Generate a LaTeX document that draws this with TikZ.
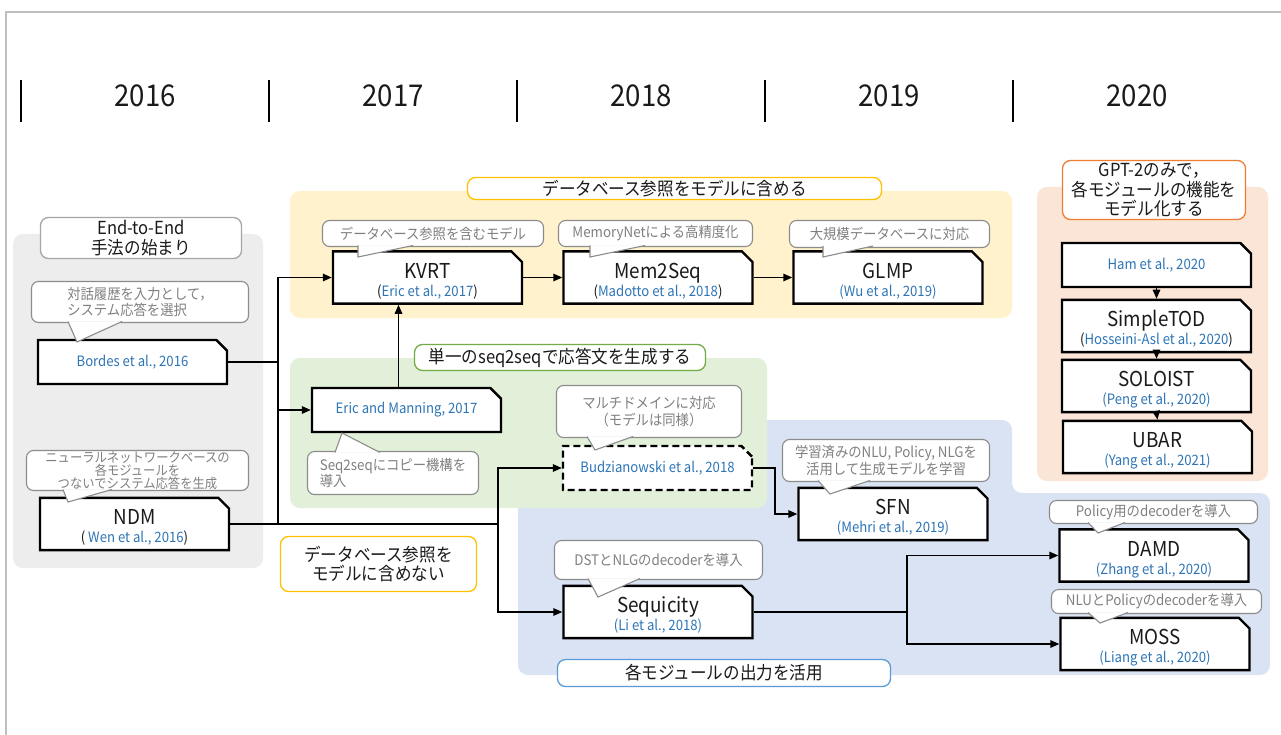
\documentclass[tikz,border=0pt]{standalone}
\usepackage{fontspec}
\setmainfont[FakeStretch=0.92]{Noto Sans CJK JP}
\usetikzlibrary{shapes.misc,arrows.meta,calc}
\definecolor{citeblue}{HTML}{2E75B6}
\definecolor{bubedge}{HTML}{8C8C8C}
\definecolor{bubtext}{HTML}{808080}
\definecolor{graybg}{HTML}{EDEDED}
\definecolor{yellowbg}{HTML}{FFF2CC}
\definecolor{greenbg}{HTML}{E2F0D9}
\definecolor{bluebg}{HTML}{DAE3F3}
\definecolor{orangebg}{HTML}{FBE5D6}
\definecolor{yellowedge}{HTML}{FFC000}
\definecolor{greenedge}{HTML}{70AD47}
\definecolor{blueedge}{HTML}{5B9BD5}
\definecolor{orangeedge}{HTML}{ED7D31}
\definecolor{labeledge}{HTML}{A6A6A6}
\definecolor{framegray}{HTML}{BFBFBF}
\definecolor{titleblack}{HTML}{1A1A1A}
\newcommand\fYear{\fontsize{30}{36}\selectfont}
\newcommand\fTitle{\fontsize{20.5}{18}\selectfont}
\newcommand\fCite{\fontsize{14.3}{18}\selectfont}
\newcommand\fBub{\fontsize{14.5}{16.5}\selectfont}
\newcommand\fSmallBub{\fontsize{13.4}{12.8}\selectfont}
\newcommand\fLab{\fontsize{18}{19.5}\selectfont}
\newcommand\mdl[3]{\rule{0pt}{23pt}{\fTitle\color{titleblack}#1}\\{\color{#3}(}#2{\color{#3})}\rule[-4pt]{0pt}{4pt}}
\begin{document}
\begin{tikzpicture}[x=1pt,y=-1pt,
  model/.style={chamfered rectangle, chamfered rectangle corners=north east,
    chamfered rectangle xsep=7pt, draw=black, line width=2.4pt, fill=white,
    minimum width=189pt, minimum height=44pt, inner sep=0pt, align=center,
    font=\fCite, text=citeblue},
  bubble/.style={draw=bubedge, line width=1.1pt, fill=white, rounded corners=7pt,
    inner sep=0pt, text=bubtext, font=\fBub, align=center},
  tailst/.style={draw=bubedge, line width=1.1pt, fill=white, line join=miter},
  label/.style={line width=1.3pt, fill=white, rounded corners=8pt, inner sep=0pt,
    font=\fLab, align=center, text=titleblack},
  yr/.style={font=\fYear, text=titleblack, inner sep=0pt},
  conn/.style={line width=1.5pt, -{Triangle[length=9pt,width=7.5pt]}},
  plain/.style={line width=1.5pt}]
\useasboundingbox (0,0) rectangle (1281,735);
\fill[white] (0,0) rectangle (1281,735);
\draw[framegray, line width=1.5pt] (6,735) -- (6,12) -- (1281,12);

% year axis
\foreach \x in {21,269,517,765,1013} \draw[line width=1.2pt] (\x,80) -- (\x,122);
\node[yr] (y2016) at (145,96) {2016};
\node[yr] (y2017) at (393,96) {2017};
\node[yr] (y2018) at (641,96) {2018};
\node[yr] (y2019) at (889,96) {2019};
\node[yr] (y2020) at (1137,96) {2020};

% background regions
\fill[graybg, rounded corners=10pt] (13,234) rectangle (263,568);
\fill[yellowbg, rounded corners=10pt] (290,191) rectangle (1012,318);
\fill[bluebg, rounded corners=10pt] (518,420) -- (1012,420) -- (1012,493) -- (1270,493) -- (1270,675) -- (518,675) -- cycle;
\fill[greenbg, rounded corners=10pt] (290,358) rectangle (767,508);
\fill[orangebg, rounded corners=10pt] (1037,187) rectangle (1268,481);

% group labels
\node[label, draw=labeledge, minimum width=201pt, minimum height=41pt] (lE2E) at (141,238) {End-to-End\\手法の始まり};
\node[label, draw=yellowedge, minimum width=414pt, minimum height=22pt] (lDB) at (674.5,188.5) {データベース参照をモデルに含める};
\node[label, draw=greenedge, minimum width=291pt, minimum height=26pt] (lS2S) at (560,357.5) {単一のseq2seqで応答文を生成する};
\node[label, draw=blueedge, minimum width=333pt, minimum height=27pt] (lMod) at (724,673) {各モジュールの出力を活用};
\node[label, draw=orangeedge, minimum width=183pt, minimum height=59pt] (lGPT) at (1154,190) {GPT-2のみで，\\各モジュールの機能を\\モデル化する};
\node[label, draw=yellowedge, minimum width=196pt, minimum height=55pt] (lNoDB) at (378.5,564) {データベース参照を\\モデルに含めない};

% model boxes
\node[model] (Bordes) at (132.5,362) {Bordes et al., 2016};
\node[model] (NDM) at (134.5,524) {\mdl{NDM}{~Wen et al., 2016}{titleblack}};
\node[model] (KVRT) at (427.5,277.5) {\mdl{KVRT}{Eric et al., 2017}{titleblack}};
\node[model] (Mem) at (658,277.5) {\mdl{Mem2Seq}{Madotto et al., 2018}{titleblack}};
\node[model] (GLMP) at (888,277.5) {\mdl{GLMP}{Wu et al., 2019}{citeblue}};
\node[model] (Eric) at (406.5,410) {Eric and Manning, 2017};
\node[model, dashed, dash pattern=on 7pt off 4pt] (Budz) at (657.5,468) {Budzianowski et al., 2018};
\node[model] (SFN) at (893,514) {\mdl{SFN}{Mehri et al., 2019}{citeblue}};
\node[model] (Seq) at (658,612) {\mdl{Sequicity}{Li et al., 2018}{citeblue}};
\node[model] (DAMD) at (1154,555.5) {\mdl{DAMD}{Zhang et al., 2020}{citeblue}};
\node[model] (MOSS) at (1155,644) {\mdl{MOSS}{Liang et al., 2020}{citeblue}};
\node[model] (Ham) at (1156.5,265) {Ham et al., 2020};
\node[model] (STOD) at (1156.5,326) {\mdl{SimpleTOD}{Hosseini-Asl et al., 2020}{titleblack}};
\node[model] (SOL) at (1156.5,386) {\mdl{SOLOIST}{Peng et al., 2020}{citeblue}};
\node[model] (UBAR) at (1157.5,447) {\mdl{UBAR}{Yang et al., 2021}{citeblue}};

% connectors
\coordinate (j1) at (278,362);
\coordinate (j2) at (498,524);
\draw[plain] (Bordes.east) -- (j1);
\draw[conn] (j1) |- (KVRT.west);
\draw[conn] (j1) |- (Eric.west);
\draw[plain] (NDM.east) -| (j1);
\draw[plain] (NDM.east) -- (j2);
\draw[conn] (j2) |- (Budz.west);
\draw[conn] (j2) |- (Seq.west);
\coordinate (e1) at ([xshift=-8pt]Eric.north);
\draw[conn] (e1) -- (e1 |- KVRT.south);
\draw[conn] (KVRT.east) -- (Mem.west);
\draw[conn] (Mem.east) -- (GLMP.west);
\draw[conn] (Budz.east) -- ++(22,0) |- (SFN.west);
\coordinate (j3) at (907,612);
\draw[plain] (Seq.east) -- (j3);
\draw[conn] (j3) |- (DAMD.west);
\draw[conn] (j3) |- (MOSS.west);
\draw[conn] (Ham.south) -- (STOD.north);
\draw[conn] (STOD.south) -- (SOL.north);
\draw[conn] (SOL.south) -- (UBAR.north);

% speech bubbles
\node[bubble, align=left, minimum width=217pt, minimum height=41pt] (bBordes) at (140,302) {対話履歴を入力として，\\システム応答を選択};
\filldraw[tailst] (68,321.5) -- (77,342) -- (122,321.5);
\node[bubble, font=\fSmallBub, minimum width=222pt, minimum height=40pt] (bNDM) at (137.5,470.5) {ニューラルネットワークベースの\\各モジュールを\\つないでシステム応答を生成};
\filldraw[tailst] (63,489.5) -- (68,502) -- (112,489.5);
\node[bubble, minimum width=221pt, minimum height=26pt] (bKVRT) at (433,233.5) {データベース参照を含むモデル};
\filldraw[tailst] (358,245.5) -- (358,257) -- (413,245.5);
\node[bubble, minimum width=194pt, minimum height=26pt] (bMem) at (655.5,233.5) {MemoryNetによる高精度化};
\filldraw[tailst] (590,245.5) -- (590,257) -- (645,245.5);
\node[bubble, minimum width=200pt, minimum height=27pt] (bGLMP) at (889.5,234) {大規模データベースに対応};
\filldraw[tailst] (823,246) -- (823,257) -- (873,246);
\node[bubble, align=left, minimum width=171pt, minimum height=43pt] (bEric) at (393,473) {Seq2seqにコピー機構を\\導入};
\filldraw[tailst] (335,452.5) -- (342,433) -- (380,452.5);
\node[bubble, minimum width=185pt, minimum height=52pt] (bBudz) at (649,411.5) {マルチドメインに対応\\（モデルは同様）};
\filldraw[tailst] (587,436.5) -- (595,450) -- (633,436.5);
\node[bubble, minimum width=208pt, minimum height=39pt] (bSeq) at (658.5,560) {DSTとNLGのdecoderを導入};
\filldraw[tailst] (588,578.5) -- (598,597) -- (640,578.5);
\node[bubble, minimum width=207pt, minimum height=42pt] (bSFN) at (886,460.5) {学習済みのNLU, Policy, NLGを\\活用して生成モデルを学習};
\filldraw[tailst] (818,480.5) -- (830,494) -- (870,480.5);
\node[bubble, minimum width=208pt, minimum height=23pt] (bDAMD) at (1153.5,512) {Policy用のdecoderを導入};
\filldraw[tailst] (1088,522.5) -- (1098,533) -- (1125,522.5);
\node[bubble, minimum width=210pt, minimum height=24pt] (bMOSS) at (1156.5,601.5) {NLUとPolicyのdecoderを導入};
\filldraw[tailst] (1088,612.5) -- (1100,623) -- (1128,612.5);
\end{tikzpicture}
\end{document}
